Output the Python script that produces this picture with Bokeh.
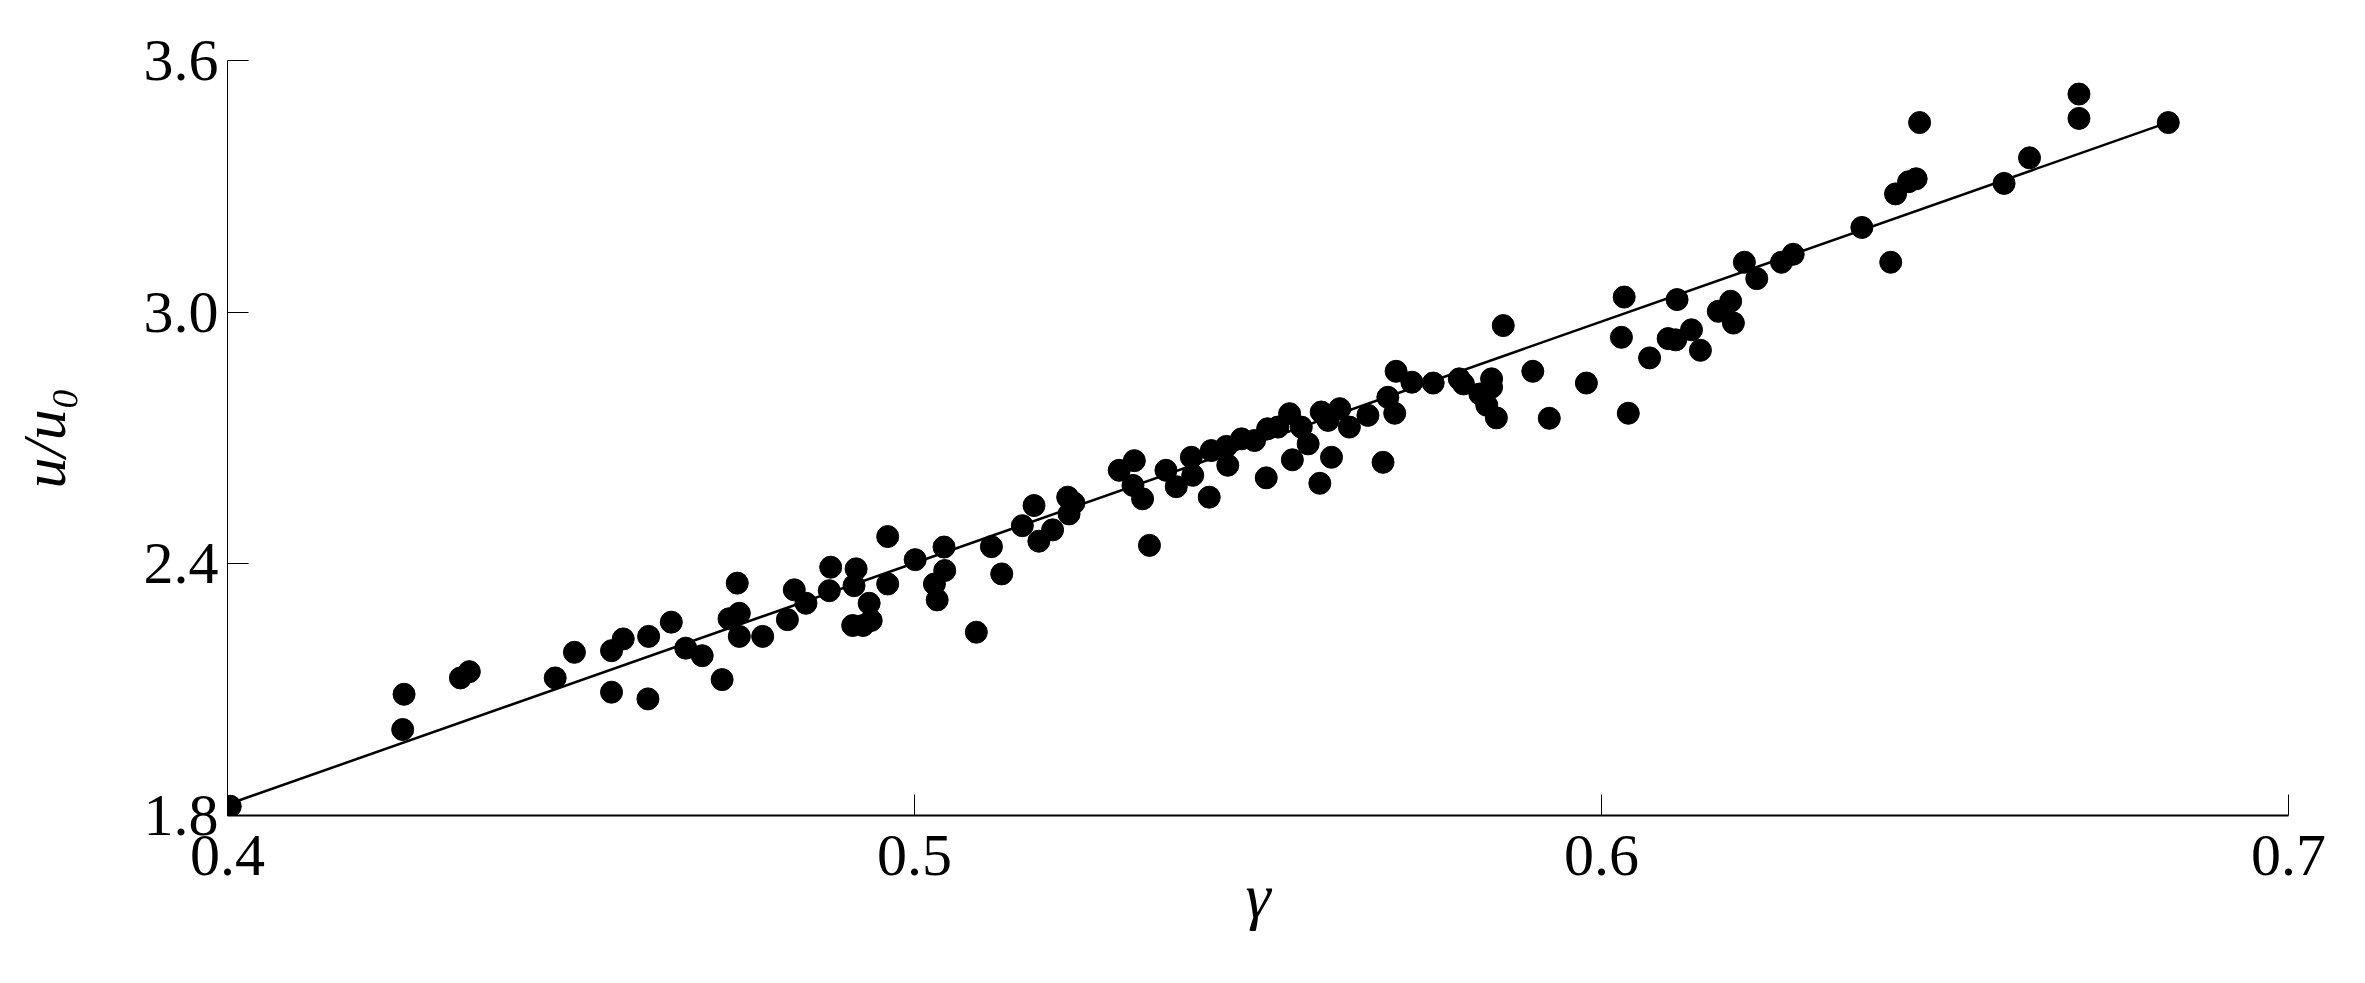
from bokeh.plotting import figure
from bokeh.models import Range1d, FixedTicker, PrintfTickFormatter
from bokeh.embed import file_html
from bokeh.resources import INLINE

# ---- data ----
gamma = [
    0.4004, 0.4255, 0.4257, 0.4339, 0.4352, 0.4477, 0.4505, 0.4559, 0.4559, 0.4576,
    0.4613, 0.4612,
    0.4646, 0.4667, 0.4691, 0.4720, 0.4742, 0.4745, 0.4730, 0.4745, 0.4779, 0.4815,
    0.4825, 0.4842, 0.4878, 0.4876, 0.4915, 0.4912, 0.4934, 0.4937, 0.4910, 0.4925,
    0.4961, 0.4961, 0.5001, 0.5043, 0.5044, 0.5029, 0.5033, 0.5090, 0.5112, 0.5127,
    0.5157, 0.5174, 0.5181, 0.5201, 0.5223, 0.5225, 0.5232,
    0.5298, 0.5320, 0.5318, 0.5332, 0.5342, 0.5366, 0.5381, 0.5403, 0.5405, 0.5429,
    0.5432, 0.5454, 0.5456, 0.5476, 0.5495, 0.5512, 0.5514, 0.5529, 0.5546, 0.5550,
    0.5563, 0.5573, 0.5590, 0.5592, 0.5602, 0.5607, 0.5619, 0.5633, 0.5660,
    0.5682, 0.5689, 0.5699, 0.5701, 0.5724, 0.5755, 0.5793, 0.5799, 0.5840, 0.5840,
    0.5823, 0.5833, 0.5847, 0.5857, 0.5900, 0.5924, 0.5978, 0.6029, 0.6033, 0.6039,
    0.6070,
    0.6097, 0.6108, 0.6110, 0.6131, 0.6144, 0.6170, 0.6188, 0.6192, 0.6208, 0.6226,
    0.6262, 0.6279, 0.6379, 0.6421, 0.6428, 0.6447, 0.6458, 0.6463, 0.6586, 0.6623,
    0.6695, 0.6695, 0.6825,
]
u_ratio = [
    1.822, 2.005, 2.089, 2.128, 2.143, 2.128, 2.189, 2.193, 2.094, 2.221,
    2.227, 2.078,
    2.261, 2.199, 2.181, 2.124, 2.354, 2.282, 2.269, 2.227, 2.227, 2.267,
    2.338, 2.306, 2.392, 2.336, 2.388, 2.348, 2.306, 2.265, 2.253, 2.253,
    2.465, 2.352, 2.410, 2.440, 2.384, 2.352, 2.314, 2.237, 2.441, 2.376,
    2.491, 2.539, 2.454, 2.481, 2.559, 2.519, 2.545,
    2.623, 2.646, 2.587, 2.555, 2.444, 2.623, 2.584, 2.654, 2.611, 2.559,
    2.670, 2.680, 2.635, 2.698, 2.694, 2.605, 2.722, 2.726, 2.758, 2.648,
    2.726, 2.686, 2.592, 2.762, 2.742, 2.654, 2.770, 2.726, 2.754,
    2.642, 2.797, 2.759, 2.859, 2.833, 2.831, 2.841, 2.829, 2.841, 2.821,
    2.805, 2.778, 2.748, 2.968, 2.859, 2.747, 2.831, 2.940, 3.036, 2.759,
    2.891,
    2.937, 2.934, 3.030, 2.958, 2.909, 3.002, 3.026, 2.974, 3.119, 3.080,
    3.119, 3.138, 3.202, 3.119, 3.282, 3.311, 3.318, 3.452, 3.307, 3.368,
    3.520, 3.462, 3.452,
]
fit_intercept = -0.476
fit_slope = 5.756

x_ticks = [0.4, 0.5, 0.6, 0.7]
y_ticks = [1.8, 2.4, 3.0, 3.6]
x_label = "γ"
y_label = "u/u₀"

fit_x = [min(gamma), max(gamma)]
fit_y = [fit_intercept + fit_slope * v for v in fit_x]

SERIF = "Liberation Serif"

p = figure(width=2349, height=967, output_backend="svg", toolbar_location=None,
           x_range=Range1d(0.4, 0.7), y_range=Range1d(1.8, 3.6),
           min_border_left=227, min_border_right=61,
           min_border_top=60, min_border_bottom=152)
p.outline_line_color = None
p.grid.visible = False
p.background_fill_color = "white"
p.border_fill_color = "white"

p.line(fit_x, fit_y, line_color="black", line_width=2.5)
p.scatter(gamma, u_ratio, size=22, fill_color="black", line_color="black")

for ax in (p.xaxis[0], p.yaxis[0]):
    ax.major_tick_in = 21
    ax.major_tick_out = 0
    ax.minor_tick_in = 0
    ax.minor_tick_out = 0
    ax.major_tick_line_color = "black"
    ax.major_tick_line_width = 1
    ax.axis_line_color = "black"
    ax.major_label_text_font = SERIF
    ax.major_label_text_font_size = "60px"
    ax.major_label_text_color = "black"
    ax.formatter = PrintfTickFormatter(format="%.1f")
    ax.axis_label_text_font = SERIF
    ax.axis_label_text_font_style = "italic"
    ax.axis_label_text_color = "black"

p.xaxis[0].ticker = FixedTicker(ticks=x_ticks)
p.yaxis[0].ticker = FixedTicker(ticks=y_ticks)
p.xaxis[0].axis_line_width = 2
p.yaxis[0].axis_line_width = 1
p.xaxis[0].major_label_standoff = 20
p.yaxis[0].major_label_standoff = 9
p.xaxis[0].axis_label = x_label
p.yaxis[0].axis_label = y_label
p.xaxis[0].axis_label_text_font_size = "64px"
p.yaxis[0].axis_label_text_font_size = "62px"
p.xaxis[0].axis_label_standoff = -18
p.yaxis[0].axis_label_standoff = 63

open("out.html", "w").write(file_html(p, INLINE))
